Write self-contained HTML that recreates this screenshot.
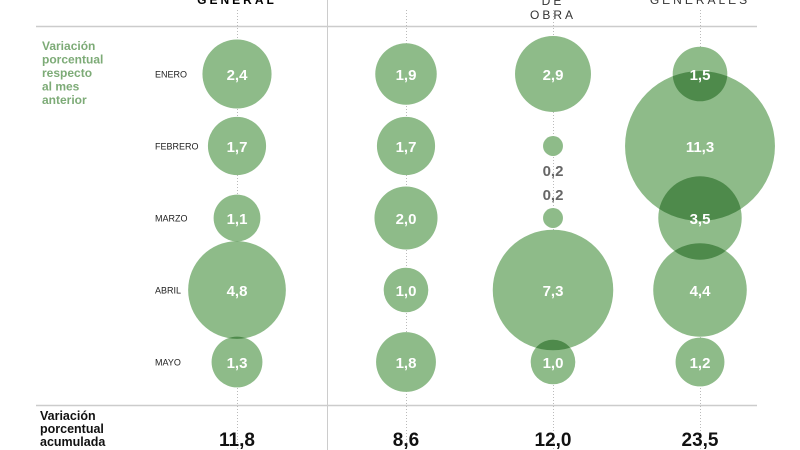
<!DOCTYPE html>
<html><head><meta charset="utf-8"><style>
body{margin:0;background:#fff;}
svg{display:block;font-family:"Liberation Sans",sans-serif;}
</style></head><body>
<svg id="c" width="800" height="450" viewBox="0 0 800 450">
<defs id="defs"></defs>
<g id="grid"></g>
<g id="marks"></g>
<g id="labels"></g>
</svg>
<script>
const columns = ["GENERAL", "", "DE OBRA", "GENERALES"];
const months = ["ENERO", "FEBRERO", "MARZO", "ABRIL", "MAYO"];
const values = [
  [2.4, 1.7, 1.1, 4.8, 1.3],
  [1.9, 1.7, 2.0, 1.0, 1.8],
  [2.9, 0.2, 0.2, 7.3, 1.0],
  [1.5, 11.3, 3.5, 4.4, 1.2]
];
const totals = [11.8, 8.6, 12.0, 23.5];

const NS = "http://www.w3.org/2000/svg";
const svg = document.getElementById("c");
const gGrid = document.getElementById("grid"), gMarks = document.getElementById("marks"), gLab = document.getElementById("labels"), defs = document.getElementById("defs");
function mk(tag, attrs, parent){const e=document.createElementNS(NS,tag);for(const k in attrs)e.setAttribute(k,attrs[k]);parent.appendChild(e);return e;}
const xScale = i => [237, 406, 553, 700][i];
const yScale = j => 74 + j * 72;
const rScale = v => 22.3 * Math.sqrt(v);
const fmt = v => v.toFixed(1).replace(".", ",");

// lines
let l = mk("line",{x1:36,x2:757,y1:26.5,y2:26.5,stroke:"#ccc","stroke-width":1.5},gGrid);


l = mk("line",{x1:36,x2:757,y1:405.5,y2:405.5,stroke:"#ccc","stroke-width":1.5},gGrid);


l = mk("line",{x1:327.5,x2:327.5,y1:0,y2:450,stroke:"#ccc","stroke-width":1},gGrid);


columns.forEach((c,i)=>{
  const d = mk("line",{x1:xScale(i)+0.5,x2:xScale(i)+0.5,y1:10,y2:450,stroke:"#bbb","stroke-dasharray":"1,2"},gGrid);
  
  
});

// headers
function txt(s,attrs,name,parent){const t=mk("text",attrs,parent||gLab);t.textContent=s;return t;}
txt("GENERAL",{x:237,y:4,"text-anchor":"middle","font-size":12,"font-weight":"bold","letter-spacing":3},"header-general");
txt("DE",{x:553,y:5,"text-anchor":"middle","font-size":12,fill:"#333","letter-spacing":3},"header-de-obra-1");
txt("OBRA",{x:553,y:19,"text-anchor":"middle","font-size":12,fill:"#333","letter-spacing":3},"header-de-obra-2");
txt("GENERALES",{x:700,y:4,"text-anchor":"middle","font-size":12,fill:"#333","letter-spacing":3},"header-generales");

// left labels
["Variación","porcentual","respecto","al mes","anterior"].forEach((s,k)=>txt(s,{x:42,y:50+k*13.5,"font-size":12,"font-weight":"bold",fill:"#7dab77"},"monthly-label-line"));
["Variación","porcentual","acumulada"].forEach((s,k)=>txt(s,{x:40,y:420+k*13,"font-size":12.5,"font-weight":"bold",fill:"#111"},"cumulative-label-line"));
months.forEach((m,j)=>txt(m,{x:155,y:yScale(j)+3.5,"font-size":9,fill:"#222","font-family":"Liberation Sans Narrow, Liberation Sans, sans-serif"},"month-label"));

// bubbles
const base="#8ebb89", dark="#4e8a4b";
values.forEach((col,i)=>{
  col.forEach((v,j)=>{
    const c = mk("circle",{cx:xScale(i),cy:yScale(j),r:rScale(v),fill:base},gMarks);
    
    
  });
});
values.forEach((col,i)=>{
  for(let j=0;j<col.length-1;j++){
    const r1=rScale(col[j]), r2=rScale(col[j+1]);
    if(r1+r2>72){
      const id="cp"+i+"_"+j;
      const cp=mk("clipPath",{id:id},defs);
      mk("circle",{cx:xScale(i),cy:yScale(j),r:r1},cp);
      const o=mk("circle",{cx:xScale(i),cy:yScale(j+1),r:r2,fill:dark,"clip-path":"url(#"+id+")"},gMarks);
      
      
    }
  }
});
values.forEach((col,i)=>{
  col.forEach((v,j)=>{
    const r=rScale(v);
    if(r<15){
      const nextSmall = j+1<col.length && rScale(col[j+1])<15;
      const y = yScale(j) + (nextSmall?24:-24) + 6;
      txt(fmt(v),{x:xScale(i),y:y,"text-anchor":"middle","font-size":15,"font-weight":"bold",fill:"#666"},"bubble-value");
    } else {
      txt(fmt(v),{x:xScale(i),y:yScale(j)+6,"text-anchor":"middle","font-size":15,"font-weight":"bold",fill:"#fff"},"bubble-value");
    }
  });
});
totals.forEach((t,i)=>txt(fmt(t),{x:xScale(i),y:446,"text-anchor":"middle","font-size":19,"font-weight":"bold",fill:"#111"},"cumulative-value"));
</script>
</body></html>
